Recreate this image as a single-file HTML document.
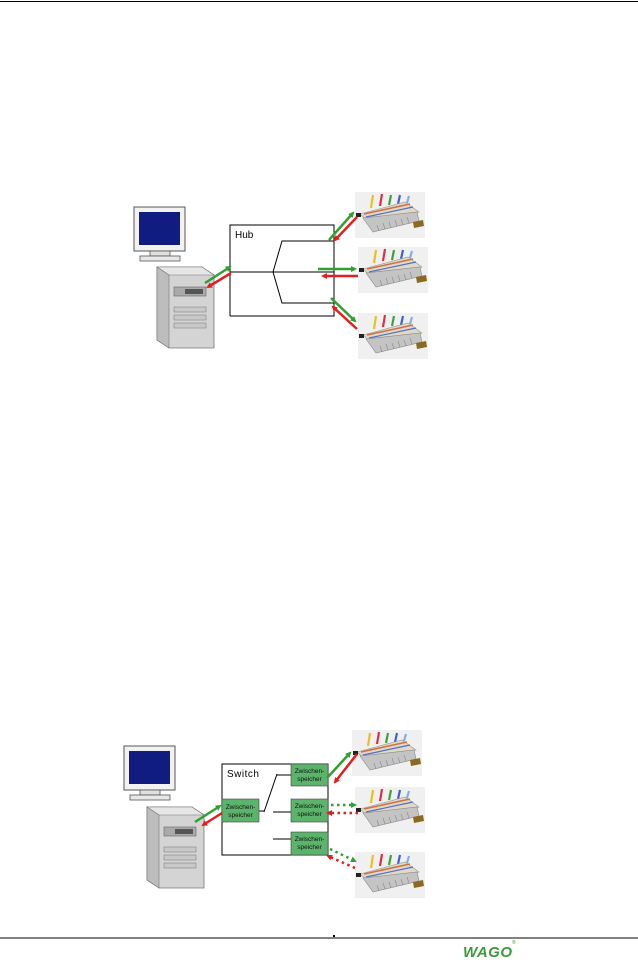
<!DOCTYPE html>
<html><head><meta charset="utf-8"><style>
html,body{margin:0;padding:0;background:#fff;}
svg{display:block;}
</style></head><body>
<svg width="638" height="962" viewBox="0 0 638 962" xmlns="http://www.w3.org/2000/svg" font-family="Liberation Sans, sans-serif">
<defs>
<g id="dev">
<rect x="0" y="0" width="70" height="46" fill="#f0f0f0"/>
<g stroke-width="2.2">
<line x1="16" y1="16" x2="18" y2="3" stroke="#e8c020"/>
<line x1="25" y1="14" x2="27" y2="2" stroke="#d83040"/>
<line x1="34" y1="13" x2="36" y2="3" stroke="#40a040"/>
<line x1="43" y1="12" x2="45" y2="3" stroke="#4060d0"/>
<line x1="52" y1="11" x2="54" y2="4" stroke="#80b0e0"/>
</g>
<polygon points="5,22 50,10 64,20 18,34" fill="#e0d8c8" stroke="#999" stroke-width="0.6"/>
<line x1="9" y1="22" x2="55" y2="12" stroke="#d07040" stroke-width="1.5"/>
<line x1="11" y1="25" x2="58" y2="15" stroke="#5070c0" stroke-width="1.2"/>
<polygon points="8,26 18,40 64,29 62,20" fill="#c4c4c4" stroke="#888" stroke-width="0.6"/>
<g stroke="#888" stroke-width="0.6">
<line x1="22" y1="33" x2="24" y2="39"/><line x1="28" y1="31" x2="30" y2="37"/><line x1="34" y1="30" x2="36" y2="36"/><line x1="40" y1="28" x2="42" y2="34"/><line x1="46" y1="27" x2="48" y2="33"/><line x1="52" y1="25" x2="54" y2="31"/>
</g>
<rect x="1" y="21" width="5" height="4" fill="#222"/>
<polygon points="58,30 68,28 69,34 59,36" fill="#8a6a20"/>
</g>
<g id="pc">
<rect x="0" y="0" width="51" height="44" fill="#f2f2f2" stroke="#555" stroke-width="1"/>
<rect x="5" y="5" width="41" height="33" fill="#101c80"/>
<rect x="16" y="44" width="20" height="5" fill="#e0e0e0" stroke="#555" stroke-width="0.8"/>
<rect x="6" y="49" width="40" height="5" fill="#e8e8e8" stroke="#555" stroke-width="0.8"/>
</g>
<g id="tower">
<polygon points="0,0 45,0 57,8 57,81 12,81 0,73" fill="#d4d4d4" stroke="#777" stroke-width="0.8"/>
<polygon points="0,0 45,0 57,8 12,8" fill="#e6e6e6" stroke="#777" stroke-width="0.6"/>
<polygon points="0,0 12,8 12,81 0,73" fill="#bdbdbd" stroke="#777" stroke-width="0.6"/>
<rect x="17" y="20" width="32" height="9" fill="#aaa" stroke="#666" stroke-width="0.6"/>
<rect x="28" y="22" width="18" height="5" fill="#555"/>
<rect x="17" y="40" width="32" height="5" fill="#c8c8c8" stroke="#777" stroke-width="0.5"/>
<rect x="17" y="48" width="32" height="5" fill="#c8c8c8" stroke="#777" stroke-width="0.5"/>
<rect x="17" y="56" width="32" height="5" fill="#c8c8c8" stroke="#777" stroke-width="0.5"/>
</g>
<marker id="ag" markerWidth="6" markerHeight="6" refX="4" refY="3" orient="auto" markerUnits="userSpaceOnUse"><path d="M0,0 L6,3 L0,6 z" fill="#30a030"/></marker>
<marker id="ar" markerWidth="6" markerHeight="6" refX="4" refY="3" orient="auto" markerUnits="userSpaceOnUse"><path d="M0,0 L6,3 L0,6 z" fill="#e02020"/></marker>
</defs>

<line x1="0" y1="1.5" x2="638" y2="1.5" stroke="#000" stroke-width="1"/>

<!-- HUB diagram -->
<use href="#pc" x="134" y="207"/>
<use href="#tower" x="157" y="267"/>
<g fill="none" stroke="#000" stroke-width="1">
<polyline points="230,316 230,225 334,225 334,316 230,316"/>
<line x1="230" y1="272" x2="334" y2="272"/>
<polyline points="273,272 282,241 334,241"/>
<polyline points="273,272 282,303 334,303"/>
</g>
<text x="235" y="238" font-size="10">Hub</text>
<use href="#dev" x="355" y="192"/>
<use href="#dev" x="358" y="247"/>
<use href="#dev" x="358" y="313"/>
<g stroke-width="2.5">
<line x1="205" y1="283" x2="230" y2="267" stroke="#30a030" marker-end="url(#ag)"/>
<line x1="231" y1="273" x2="208" y2="287" stroke="#e02020" marker-end="url(#ar)"/>
<line x1="329" y1="240" x2="353" y2="213" stroke="#30a030" marker-end="url(#ag)"/>
<line x1="357" y1="217" x2="335" y2="240" stroke="#e02020" marker-end="url(#ar)"/>
<line x1="318" y1="269" x2="355" y2="269" stroke="#30a030" marker-end="url(#ag)"/>
<line x1="358" y1="276" x2="323" y2="276" stroke="#e02020" marker-end="url(#ar)"/>
<line x1="331" y1="298" x2="355" y2="321" stroke="#30a030" marker-end="url(#ag)"/>
<line x1="357" y1="329" x2="333" y2="307" stroke="#e02020" marker-end="url(#ar)"/>
</g>

<!-- SWITCH diagram -->
<use href="#pc" x="124" y="746"/>
<use href="#tower" x="147" y="807"/>
<g fill="none" stroke="#000" stroke-width="1">
<polyline points="291,764 222,764 222,855 328,855 328,764 291,764"/>
<line x1="259" y1="811" x2="264" y2="811"/>
<line x1="264" y1="812" x2="277" y2="774"/>
<line x1="277" y1="775" x2="291" y2="775"/>
<line x1="273" y1="812" x2="291" y2="812"/>
<line x1="273" y1="839" x2="291" y2="839"/>
</g>
<text x="227" y="777" font-size="10" letter-spacing="0.5">Switch</text>
<g fill="#5cb46c" stroke="#444" stroke-width="0.6">
<rect x="222" y="799" width="37" height="23"/>
<rect x="291" y="764" width="37" height="22"/>
<rect x="291" y="799" width="37" height="23"/>
<rect x="291" y="832" width="37" height="23"/>
</g>
<g font-size="6.5" fill="#111" text-anchor="middle">
<text x="240.5" y="809">Zwischen-</text><text x="240.5" y="817">speicher</text>
<text x="309.5" y="773">Zwischen-</text><text x="309.5" y="781">speicher</text>
<text x="309.5" y="808">Zwischen-</text><text x="309.5" y="816">speicher</text>
<text x="309.5" y="841">Zwischen-</text><text x="309.5" y="849">speicher</text>
</g>
<use href="#dev" x="352" y="730"/>
<use href="#dev" x="355" y="787"/>
<use href="#dev" x="355" y="852"/>
<g stroke-width="2.5">
<line x1="195" y1="822" x2="220" y2="806" stroke="#30a030" marker-end="url(#ag)"/>
<line x1="222" y1="813" x2="203" y2="825" stroke="#e02020" marker-end="url(#ar)"/>
<line x1="327" y1="778" x2="350" y2="753" stroke="#30a030" marker-end="url(#ag)"/>
<line x1="357" y1="754" x2="335" y2="782" stroke="#e02020" marker-end="url(#ar)"/>
<line x1="331" y1="805" x2="355" y2="805" stroke="#30a030" stroke-dasharray="2.5,3.5" marker-end="url(#ag)"/>
<line x1="358" y1="813" x2="328" y2="813" stroke="#e02020" stroke-dasharray="2.5,3.5" marker-end="url(#ar)"/>
<line x1="330" y1="849" x2="355" y2="861" stroke="#30a030" stroke-dasharray="2.5,3.5" marker-end="url(#ag)"/>
<line x1="355" y1="868" x2="328" y2="856" stroke="#e02020" stroke-dasharray="2.5,3.5" marker-end="url(#ar)"/>
</g>

<!-- footer -->
<line x1="0" y1="938" x2="638" y2="938" stroke="#000" stroke-width="1"/>
<rect x="333" y="935" width="2" height="2" fill="#000"/>
<text x="463" y="957" font-size="15" font-weight="bold" font-style="italic" fill="#3c9a3c" letter-spacing="0.5">WAGO</text>
<text x="512" y="944" font-size="5" fill="#3c9a3c">®</text>
</svg>
</body></html>
